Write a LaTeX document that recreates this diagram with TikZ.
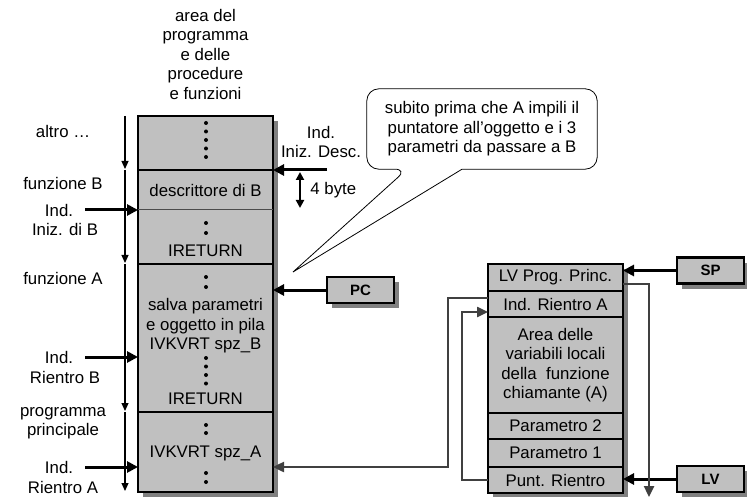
\documentclass[tikz,border=0pt]{standalone}
\usepackage{fontspec}
\setmainfont{Liberation Sans}
\usetikzlibrary{arrows.meta,positioning,backgrounds,shadows}
\definecolor{cellgray}{RGB}{192,192,192}
\definecolor{shadegray}{RGB}{128,128,128}
\definecolor{linkgray}{RGB}{64,64,64}

\begin{document}
\begin{tikzpicture}[x=1pt,y=-1pt,
  font=\fontsize{16.8}{19.5}\selectfont,
  cella/.style={draw,line width=2.2pt,fill=cellgray,minimum width=135pt,
    inner sep=0pt,outer sep=0pt,align=center},
  reg/.style={draw,line width=2.2pt,fill=cellgray,minimum width=67pt,
    minimum height=26pt,font=\fontsize{15}{17}\selectfont\bfseries,
    drop shadow={shadow xshift=5pt,shadow yshift=-5pt,fill=shadegray,opacity=1}},
  ombra/.style={fill=shadegray},
  arr/.style={-{Triangle[length=11pt,width=11pt]},line width=3pt},
  axis/.style={-{Triangle[length=8pt,width=7pt]},line width=1.2pt},
  link/.style={-{Triangle[length=11pt,width=10pt]},line width=2.4pt,linkgray},
  dbl/.style={{Triangle[length=8pt,width=8pt]}-{Triangle[length=8pt,width=8pt]},line width=2.2pt},
  lab/.style={align=center,inner sep=0pt}
]
\useasboundingbox (0,0) rectangle (747,497);

% area del programma
\node[lab] (titolo) at (205.5,54) {area del\\programma\\e delle\\procedure\\e funzioni};
\node[cella,minimum height=54pt] (cAltro) at (205.5,143) {};
\node[cella,minimum height=94pt] (cB) at (205.5,217) {};
\node[cella,minimum height=148pt] (cA) at (205.5,338) {};
\node[cella,minimum height=80pt] (cMain) at (205.5,452) {};
\begin{scope}[on background layer]
  \fill[ombra] ([shift={(5pt,-5pt)}]cAltro.north west) rectangle ([shift={(5pt,-5pt)}]cMain.south east);
\end{scope}
\draw[line width=1pt,black!70] ([yshift=-40pt]cB.north west) -- ([yshift=-40pt]cB.north east);

\node[lab] (descB) at (205.5,190) {descrittore di B};
\node[lab] (retB) at (205.5,251) {IRETURN};
\node[lab] (salva) at (205.5,326) {salva parametri\\e oggetto in pila\\IVKVRT spz\_B};
\node[lab] (retA) at (205.5,399) {IRETURN};
\node[lab] (ivkA) at (205.5,453) {IVKVRT spz\_A};
\foreach \y in {123,131.5,140,148.5,157,223,233,277,287,358,366.5,375,383.5,425,433,473,482}
  \fill (206,\y) circle[radius=2pt];

% asse a sinistra
\foreach \c in {cAltro,cB,cA,cMain}
  \draw[axis,shorten >=1pt] ([xshift=-13pt]\c.north west) -- ([xshift=-13pt]\c.south west);

\node[lab] (tAltro) at (63,131) {altro \dots};
\node[lab] (tFunB) at (63,183) {funzione B};
\node[lab] (tInd1) at (59,210) {Ind.};
\node[lab] (tInizB) at (65,229) {Iniz. di B};
\node[lab] (tFunA) at (63,278) {funzione A};
\node[lab] (tInd2) at (59,357) {Ind.};
\node[lab] (tRientroB) at (65,377) {Rientro B};
\node[lab] (tMain) at (63,423) {programma\\principale};
\node[lab] (tInd3) at (59,467) {Ind.};
\node[lab] (tRientroA) at (63,487) {Rientro A};

\coordinate (indB) at (85,210);
\coordinate (indRB) at (85,357);
\coordinate (indRA) at (85,467);
\draw[arr] (indB) -- (indB -| cB.west);
\draw[arr] (indRB) -- (indRB -| cA.west);
\draw[arr] (indRA) -- (indRA -| cMain.west);

% descrittore
\node[lab] (tDesc) at (321,142) {Ind.\\Iniz. Desc.};
\coordinate (indDesc) at (327,170);
\draw[arr] (indDesc) -- (indDesc -| cB.east);
\draw[dbl,shorten <=2pt,shorten >=2pt] ([xshift=27pt]cB.north east) -- ([xshift=27pt,yshift=-40pt]cB.north east)
  node[midway,right=6pt] (quattro) {4 byte};

% fumetto
\node[lab,minimum width=230pt,minimum height=80pt] (nota) at (482,129)
  {subito prima che A impili il\\puntatore all'oggetto e i 3\\parametri da passare a B};
\coordinate (punta) at (293,272);
\draw[line width=0.8pt] ([xshift=-20pt]nota.south) [rounded corners=12pt] -- (nota.south east)
  -- (nota.north east) -- (nota.north west) -- (nota.south west)
  -- ([xshift=-75pt]nota.south) [sharp corners] -- (punta) -- cycle;

\node[reg] (pc) at (360.5,290) {PC};
\draw[arr] (pc.west) -- (pc.west -| cA.east);

% pila
\node[cella,minimum height=27pt,anchor=north] (lvpp) at (555.5,264) {LV Prog. Princ.};
\node[cella,minimum height=26pt,below=0pt of lvpp] (indRA2) {Ind. Rientro A};
\node[cella,minimum height=96pt,below=0pt of indRA2] (area)
  {Area delle\\variabili locali\\della~ funzione\\chiamante (A)};
\node[cella,minimum height=26pt,below=0pt of area] (par2) {Parametro 2};
\node[cella,minimum height=28pt,below=0pt of par2] (par1) {Parametro 1};
\node[cella,minimum height=26pt,below=0pt of par1] (punt) {Punt. Rientro};
\begin{scope}[on background layer]
  \fill[ombra] ([shift={(5pt,-5pt)}]lvpp.north west) rectangle ([shift={(5pt,-5pt)}]punt.south east);
\end{scope}

\node[reg] (sp) at (710.5,270.5) {SP};
\node[reg] (lv) at (710.5,479) {LV};
\draw[arr] (sp.west) -- (sp.west -| lvpp.east);
\draw[arr] (lv.west) -- (lv.west -| punt.east);

\coordinate (fondo) at (649,497);
\draw[link] ([yshift=-6.5pt]lvpp.east) -| (fondo);
\draw[link] ([yshift=6pt]indRA2.west) -- ++(-40,0) |- (indRA -| cMain.east);
\draw[link] (punt.west) -- ++(-26,0) |- ([yshift=-8pt]indRA2.west);
\end{tikzpicture}
\end{document}
